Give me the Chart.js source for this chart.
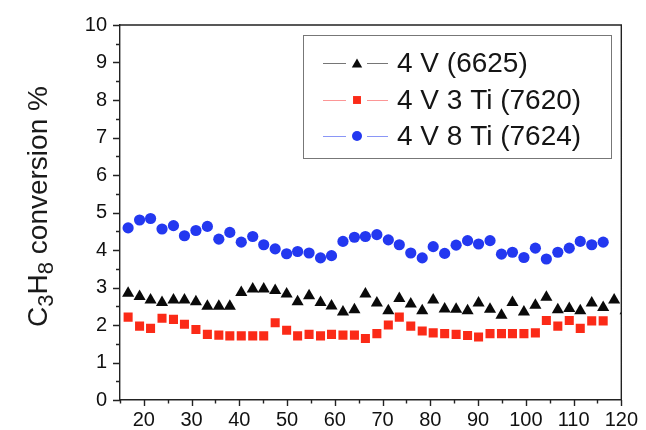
<!DOCTYPE html>
<html>
<head>
<meta charset="utf-8">
<script src="https://cdn.jsdelivr.net/npm/chart.js@4.4.1/dist/chart.umd.min.js"></script>
<style>
  html, body { margin: 0; padding: 0; background: #fff; }
  #wrap { width: 646px; height: 430px; }
</style>
</head>
<body>
<div id="wrap"><canvas id="convChart"></canvas></div>
<script>
// time on stream (x) for each measured point
const timeX = [
    16.7, 19.1, 21.4, 23.8, 26.2, 28.5, 30.9, 33.3, 35.7, 38.0,
    40.4, 42.8, 45.1, 47.5, 49.9, 52.2, 54.6, 57.0, 59.3, 61.7,
    64.1, 66.4, 68.8, 71.2, 73.5, 75.9, 78.3, 80.6, 83.0, 85.4,
    87.8, 90.1, 92.5, 94.9, 97.2, 99.6, 102.0, 104.3, 106.7, 109.1,
    111.4, 113.8, 116.2, 118.5, 120.9
];

// C3H8 conversion %, one array per catalyst
const conv4V = [
    2.85, 2.76, 2.67, 2.60, 2.67, 2.67, 2.62, 2.50, 2.50, 2.50,
    2.87, 2.96, 2.96, 2.92, 2.83, 2.62, 2.78, 2.60, 2.51, 2.35,
    2.41, 2.83, 2.59, 2.38, 2.71, 2.56, 2.38, 2.67, 2.43, 2.42,
    2.38, 2.59, 2.42, 2.26, 2.60, 2.35, 2.53, 2.74, 2.41, 2.44,
    2.38, 2.59, 2.47, 2.67, 2.38
];
const conv4V3Ti = [
    2.21, 1.97, 1.91, 2.18, 2.15, 2.02, 1.88, 1.75, 1.73, 1.71,
    1.71, 1.71, 1.71, 2.06, 1.86, 1.71, 1.75, 1.71, 1.75, 1.73,
    1.73, 1.64, 1.77, 2.00, 2.21, 1.97, 1.84, 1.79, 1.77, 1.75,
    1.72, 1.68, 1.77, 1.77, 1.77, 1.77, 1.79, 2.12, 1.97, 2.12,
    1.91, 2.11, 2.11
];
const conv4V8Ti = [
    4.59, 4.80, 4.84, 4.56, 4.65, 4.38, 4.52, 4.63, 4.29, 4.47,
    4.21, 4.36, 4.14, 4.03, 3.90, 3.96, 3.92, 3.79, 3.85, 4.23,
    4.34, 4.36, 4.41, 4.27, 4.14, 3.92, 3.79, 4.09, 3.91, 4.13,
    4.25, 4.16, 4.25, 3.89, 3.94, 3.80, 4.05, 3.76, 3.94, 4.05,
    4.23, 4.14, 4.21
];

const seriesNames = ['4 V (6625)', '4 V 3 Ti (7620)', '4 V 8 Ti (7624)'];

// tick positions and labels
const xTicks = [20, 30, 40, 50, 60, 70, 80, 90, 100, 110, 120];
const xMinorTicks = [15, 25, 35, 45, 55, 65, 75, 85, 95, 105, 115];
const yTicks = [0, 1, 2, 3, 4, 5, 6, 7, 8, 9, 10];
const yMinorTicks = [0.5, 1.5, 2.5, 3.5, 4.5, 5.5, 6.5, 7.5, 8.5, 9.5];

const toPoints = (vals) => vals.map((v, i) => ({ x: timeX[i], y: v }));

const styles = [
    { color: '#0a0a0a', line: 'rgba(60,60,60,0.7)', pointStyle: 'triangle', radius: 7, legendRadius: 6 },
    { color: '#fb2a17', line: 'rgba(250,80,80,0.6)', pointStyle: 'rect', radius: 6.4, legendRadius: 5.6 },
    { color: '#2338f0', line: 'rgba(60,80,240,0.6)', pointStyle: 'circle', radius: 5.6, legendRadius: 5 }
];

// axis ticks (major + minor, outward) and the top/right frame lines
const axisTicks = {
    id: 'axisTicks',
    afterDraw(chart) {
        const { ctx, chartArea: a, scales: { x, y } } = chart;
        ctx.save();
        ctx.strokeStyle = '#222';
        ctx.lineWidth = 1.4;
        ctx.beginPath();
        ctx.moveTo(a.left, a.top);
        ctx.lineTo(a.right, a.top);
        ctx.lineTo(a.right, a.bottom);
        xTicks.forEach(v => {
            const px = Math.round(x.getPixelForValue(v)) + 0.5;
            ctx.moveTo(px, a.bottom); ctx.lineTo(px, a.bottom + 6);
        });
        xMinorTicks.forEach(v => {
            const px = Math.round(x.getPixelForValue(v)) + 0.5;
            ctx.moveTo(px, a.bottom); ctx.lineTo(px, a.bottom + 3.5);
        });
        yTicks.forEach(v => {
            const py = Math.round(y.getPixelForValue(v)) + 0.5;
            ctx.moveTo(a.left, py); ctx.lineTo(a.left - 7, py);
        });
        yMinorTicks.forEach(v => {
            const py = Math.round(y.getPixelForValue(v)) + 0.5;
            ctx.moveTo(a.left, py); ctx.lineTo(a.left - 4, py);
        });
        ctx.stroke();
        ctx.restore();
    }
};

// y axis title with subscripts: C3H8 conversion %
const yTitle = {
    id: 'yTitle',
    afterDraw(chart) {
        const ctx = chart.ctx;
        const parts = [
            { t: 'C', sub: false }, { t: '3', sub: true },
            { t: 'H', sub: false }, { t: '8', sub: true },
            { t: ' conversion %', sub: false }
        ];
        const mainFont = '28px "Liberation Sans", Arial, sans-serif';
        const subFont = '22px "Liberation Sans", Arial, sans-serif';
        ctx.save();
        let total = 0;
        parts.forEach(p => {
            ctx.font = p.sub ? subFont : mainFont;
            p.w = ctx.measureText(p.t).width;
            total += p.w;
        });
        const cy = (chart.chartArea.top + chart.chartArea.bottom) / 2 - 6;
        ctx.translate(47, cy);
        ctx.rotate(-Math.PI / 2);
        ctx.fillStyle = '#1a1a1a';
        ctx.textBaseline = 'alphabetic';
        let cx = -total / 2;
        parts.forEach(p => {
            ctx.font = p.sub ? subFont : mainFont;
            ctx.fillText(p.t, cx, p.sub ? 6 : 0);
            cx += p.w;
        });
        ctx.restore();
    }
};

// boxed legend: thin line through the marker, then the label
const boxLegend = {
    id: 'boxLegend',
    afterDraw(chart) {
        const ctx = chart.ctx;
        ctx.save();
        ctx.fillStyle = '#fff';
        ctx.fillRect(303, 35, 308, 123);
        ctx.strokeStyle = '#777';
        ctx.lineWidth = 1;
        ctx.strokeRect(303.5, 35.5, 308, 123);
        const rows = [63, 100, 136];
        chart.data.datasets.forEach((ds, i) => {
            const st = styles[i];
            const ry = rows[i];
            ctx.strokeStyle = st.line;
            ctx.lineWidth = 1;
            ctx.beginPath();
            ctx.moveTo(323, ry + 0.5); ctx.lineTo(346, ry + 0.5);
            ctx.moveTo(367, ry + 0.5); ctx.lineTo(388, ry + 0.5);
            ctx.stroke();
            ctx.fillStyle = st.color;
            Chart.helpers.drawPoint(ctx, {
                pointStyle: st.pointStyle, radius: st.legendRadius, rotation: 0, borderWidth: 0
            }, 357, ry + (st.pointStyle === 'triangle' ? 1.5 : 0));
            ctx.fillStyle = '#151515';
            ctx.font = '28px "Liberation Sans", Arial, sans-serif';
            ctx.textBaseline = 'middle';
            ctx.fillText(ds.label, 397, ry + 1);
        });
        ctx.restore();
    }
};

const datasets = [conv4V, conv4V3Ti, conv4V8Ti].map((vals, i) => ({
    label: seriesNames[i],
    data: toPoints(vals),
    showLine: false,
    pointStyle: styles[i].pointStyle,
    pointRadius: styles[i].radius,
    pointHoverRadius: styles[i].radius,
    pointBackgroundColor: styles[i].color,
    pointBorderColor: styles[i].color,
    pointBorderWidth: 0,
    clip: 0
}));

const ctx = document.getElementById('convChart').getContext('2d');
const convChart = new Chart(ctx, {
    type: 'scatter',
    data: { datasets },
    options: {
        responsive: true,
        maintainAspectRatio: false,
        animation: false,
        events: [],
        layout: { padding: { top: 24, right: 21, left: 0, bottom: 0 } },
        plugins: {
            legend: { display: false },
            tooltip: { enabled: false }
        },
        scales: {
            x: {
                type: 'linear',
                min: 15,
                max: 120,
                afterBuildTicks: s => { s.ticks = xTicks.map(v => ({ value: v })); },
                afterFit: s => { s.height = 30; },
                grid: { display: false, drawTicks: false },
                border: { display: true, color: '#222', width: 1.4 },
                ticks: {
                    padding: 8,
                    color: '#111',
                    font: { family: '"Liberation Sans", Arial, sans-serif', size: 20 },
                    maxRotation: 0,
                    autoSkip: false
                }
            },
            y: {
                type: 'linear',
                min: 0,
                max: 10,
                afterBuildTicks: s => { s.ticks = yTicks.map(v => ({ value: v })); },
                afterFit: s => { s.width = 120; },
                grid: { display: false, drawTicks: false },
                border: { display: true, color: '#222', width: 1.4 },
                ticks: {
                    padding: 13,
                    color: '#111',
                    font: { family: '"Liberation Sans", Arial, sans-serif', size: 20 },
                    autoSkip: false
                }
            }
        }
    },
    plugins: [axisTicks, yTitle, boxLegend]
});
</script>
</body>
</html>
